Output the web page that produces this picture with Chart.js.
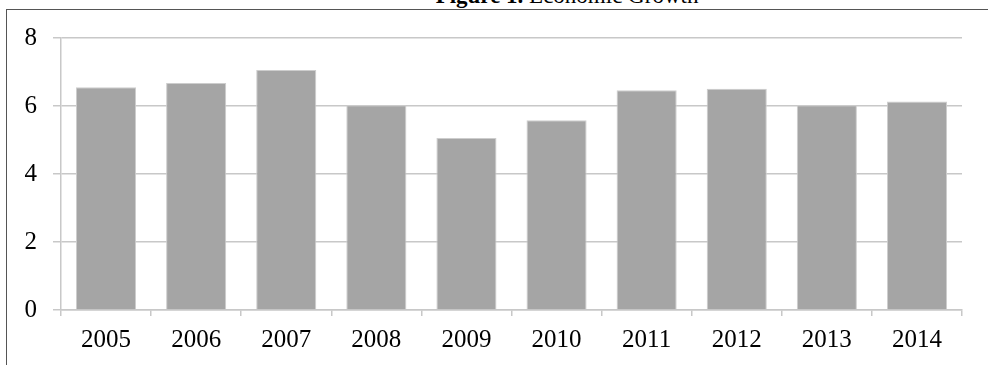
<!DOCTYPE html>
<html>
<head>
<meta charset="utf-8">
<script src="https://cdn.jsdelivr.net/npm/chart.js@4.4.1/dist/chart.umd.min.js"></script>
<style>
  html, body { margin: 0; padding: 0; background: #ffffff; overflow: hidden; }
  #wrap { position: relative; width: 988px; height: 365px; }
  #frame {
    position: absolute; left: 6px; top: 9px; width: 990px; height: 370px;
    border-top: 1px solid #555555; border-left: 1px solid #555555;
  }
  #title {
    position: absolute; left: 0; width: 1134px; top: -16px; text-align: center;
    font-family: "Liberation Serif", "Times New Roman", serif; font-size: 23px; line-height: 23px;
    color: #000000; white-space: nowrap;
  }
  #title b { font-weight: bold; }
  canvas { position: absolute; left: 0; top: 0; }
</style>
</head>
<body>
<div id="wrap">
  <div id="frame"></div>
  <div id="title"><b>Figure 1.</b> Economic Growth</div>
  <canvas id="chart" width="988" height="365"></canvas>
</div>
<script>
// Annual economic growth, 2005–2014
const years = ['2005', '2006', '2007', '2008', '2009', '2010', '2011', '2012', '2013', '2014'];
const growth = [6.55, 6.68, 7.06, 6.02, 5.06, 5.58, 6.46, 6.51, 6.02, 6.13];
const yTicks = [0, 2, 4, 6, 8];

const serif = '"Liberation Serif", "Times New Roman", serif';
const gridColor = '#c8c8c8';

new Chart(document.getElementById('chart'), {
  type: 'bar',
  data: {
    labels: years,
    datasets: [{
      data: growth,
      backgroundColor: '#a5a5a5',
      borderColor: '#cdcdcd',
      borderWidth: 1,
      barPercentage: 0.667,
      categoryPercentage: 1.0
    }]
  },
  options: {
    responsive: false,
    animation: false,
    devicePixelRatio: 1,
    layout: { padding: { top: 38, right: 26, left: 0, bottom: 0 } },
    plugins: { legend: { display: false }, tooltip: { enabled: false }, title: { display: false } },
    scales: {
      x: {
        offset: true,
        grid: { offset: true, drawOnChartArea: false, drawTicks: true, tickLength: 6, color: gridColor, lineWidth: 1.5 },
        border: { display: true, color: gridColor, width: 1.5 },
        ticks: { color: '#000000', font: { family: serif, size: 25 }, padding: 9, maxRotation: 0 },
        afterFit: (scale) => { scale.height = 55; }
      },
      y: {
        min: 0, max: 8,
        afterBuildTicks: (scale) => { scale.ticks = yTicks.map(v => ({ value: v })); },
        grid: { color: gridColor, lineWidth: 1.5, drawTicks: true, tickLength: 8 },
        border: { display: true, color: gridColor, width: 1.5 },
        ticks: { color: '#000000', font: { family: serif, size: 25 }, padding: 16 },
        afterFit: (scale) => { scale.width = 61; }
      }
    }
  }
});
</script>
</body>
</html>
